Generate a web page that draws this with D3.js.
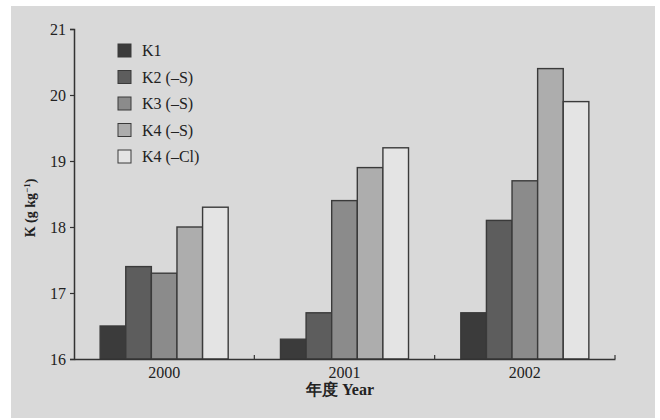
<!DOCTYPE html>
<html><head><meta charset="utf-8">
<script src="https://cdn.jsdelivr.net/npm/d3@7"></script>
<style>html,body{margin:0;padding:0;background:#fff;}</style>
</head><body>
<script>
const years = ["2000", "2001", "2002"];
const seriesNames = ["K1", "K2 (\u2013S)", "K3 (\u2013S)", "K4 (\u2013S)", "K4 (\u2013Cl)"];
const K1 = [16.5, 16.3, 16.7];
const K2S = [17.4, 16.7, 18.1];
const K3S = [17.3, 18.4, 18.7];
const K4S = [18.0, 18.9, 20.4];
const K4Cl = [18.3, 19.2, 19.9];
const yTicks = [16, 17, 18, 19, 20, 21];
const seriesValues = [K1, K2S, K3S, K4S, K4Cl];
const colors = ["#3b3b3b", "#5d5d5d", "#8b8b8b", "#adadad", "#e4e4e4"];

const W = 660, H = 420;
const svg = d3.select("body").append("svg").attr("width", W).attr("height", H);
svg.append("rect").attr("x", 11).attr("y", 6).attr("width", 644).attr("height", 412).attr("fill", "#d9d9d9");

const font = "'Liberation Serif', 'DejaVu Serif', serif";
const x0 = d3.scaleBand().domain(years).range([74, 615]);
const bw = x0.bandwidth();
const x1 = d3.scaleBand().domain(seriesNames).range([bw * 0.145, bw * 0.855]);
const y = d3.scaleLinear().domain([16, 21]).range([359, 29]);

// bars
const g = svg.append("g");
years.forEach((yr, i) => {
  seriesNames.forEach((s, j) => {
    const v = seriesValues[j][i];
    g.append("rect")
      .attr("x", x0(yr) + x1(s))
      .attr("y", y(v))
      .attr("width", x1.bandwidth())
      .attr("height", y(16) - y(v))
      .attr("fill", colors[j])
      .attr("stroke", "#3a3a3a")
      .attr("stroke-width", 1.4);
  });
});

// y axis
const ya = svg.append("g").attr("transform", "translate(74,0)")
  .call(d3.axisLeft(y).tickValues(yTicks).tickSize(4).tickFormat(d3.format("d")));
ya.select(".domain").attr("stroke", "#333").attr("stroke-width", 1.5);
ya.selectAll(".tick line").attr("stroke", "#333").attr("stroke-width", 1.2);
ya.selectAll(".tick text").attr("font-family", font).attr("font-size", 16).attr("fill", "#222").attr("x", -8);

// x axis
const xa = svg.append("g").attr("transform", "translate(0,359)")
  .call(d3.axisBottom(x0).tickSize(0).tickSizeOuter(0));
xa.select(".domain").attr("stroke", "#333").attr("stroke-width", 1.5);
xa.selectAll(".tick text").attr("font-family", font).attr("font-size", 16).attr("fill", "#222").attr("dy", "1.0em");
// boundary ticks
const bounds = years.map(yr => x0(yr) + bw);
svg.append("g").selectAll("line").data(bounds).join("line")
  .attr("x1", d => d).attr("x2", d => d).attr("y1", 359).attr("y2", 355)
  .attr("stroke", "#333").attr("stroke-width", 1.2);

// axis titles
svg.append("text").attr("x", 340).attr("y", 395).attr("text-anchor", "middle")
  .attr("font-family", font).attr("font-size", 16).attr("font-weight", "bold").attr("fill", "#222")
  .text("年度  Year");
const yt = svg.append("text").attr("transform", "translate(35,208) rotate(-90)")
  .attr("text-anchor", "middle").attr("font-family", font).attr("font-size", 14).attr("font-weight", "bold").attr("fill", "#222");
yt.append("tspan").text("K (g kg");
yt.append("tspan").attr("dy", -5).attr("font-size", 9).text("\u22121");
yt.append("tspan").attr("dy", 5).text(")");

// legend
const leg = svg.append("g").attr("transform", "translate(118,44)");
seriesNames.forEach((s, j) => {
  const row = leg.append("g").attr("transform", `translate(0,${j * 26.5})`);
  row.append("rect").attr("width", 13).attr("height", 13).attr("fill", colors[j])
    .attr("stroke", "#3a3a3a").attr("stroke-width", 1);
  row.append("text").attr("x", 24).attr("y", 12).attr("font-family", font)
    .attr("font-size", 16).attr("fill", "#222").text(s);
});
</script>
</body></html>
